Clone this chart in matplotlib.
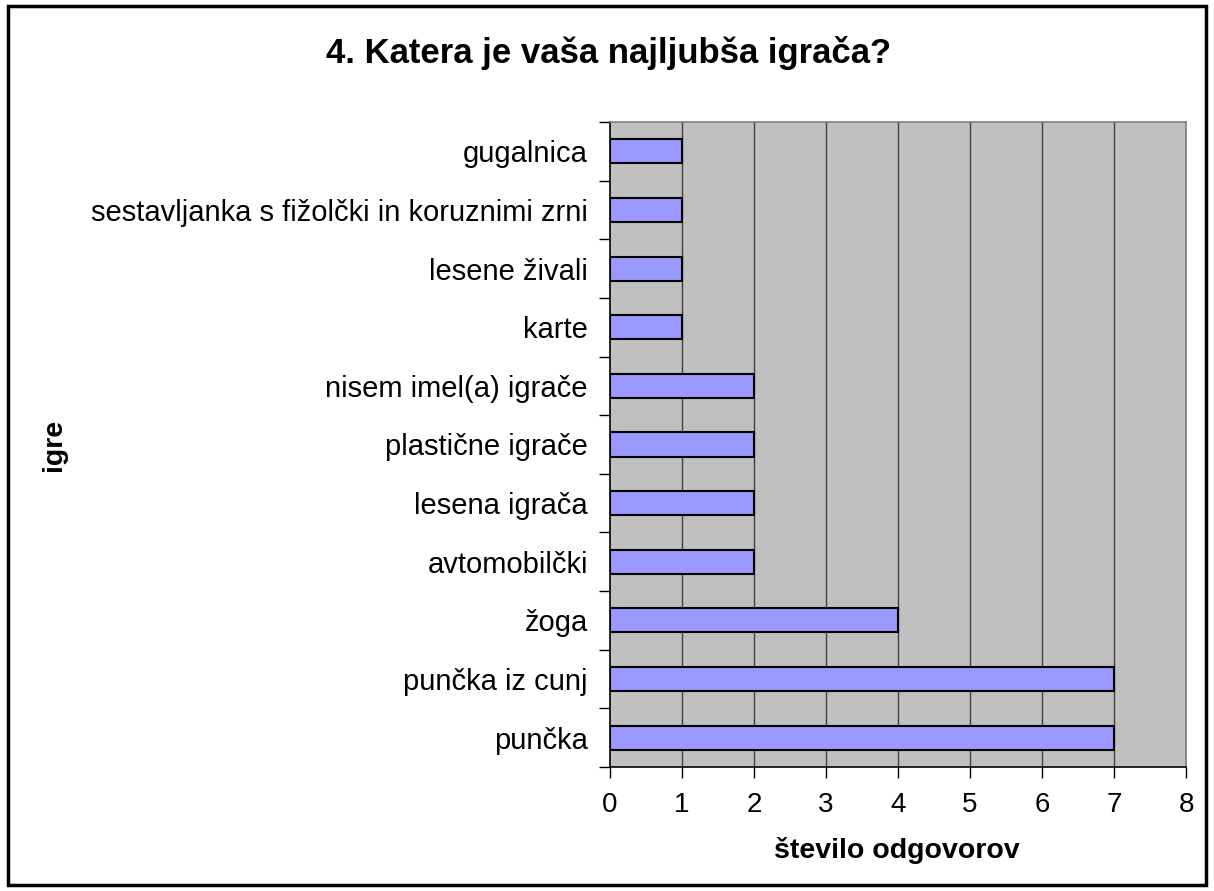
import matplotlib.pyplot as plt
import numpy as np

plt.rcParams['font.family'] = ['Liberation Sans', 'DejaVu Sans']

categories = [
    "punčka", "punčka iz cunj", "žoga", "avtomobilčki", "lesena igrača",
    "plastične igrače", "nisem imel(a) igrače", "karte", "lesene živali",
    "sestavljanka s fižolčki in koruznimi zrni", "gugalnica",
]
values = [7, 7, 4, 2, 2, 2, 2, 1, 1, 1, 1]
x_ticks = [0, 1, 2, 3, 4, 5, 6, 7, 8]

fig = plt.figure(figsize=(12.14, 8.91), dpi=100)
fig.patches.append(plt.Rectangle((8 / 1214, 6 / 891), 1198 / 1214, 879 / 891,
                                 transform=fig.transFigure, fill=False,
                                 edgecolor='black', linewidth=2.5))

ax = fig.add_axes([610 / 1214, 1 - 767 / 891, 576 / 1214, 645 / 891])
ax.set_facecolor('#C0C0C0')

pos = np.arange(len(categories))
ax.barh(pos, values, height=0.41, color='#9999FF', edgecolor='black',
        linewidth=1.5, zorder=3)

ax.set_xlim(0, 8)
ax.set_ylim(-0.5, len(categories) - 0.5)
ax.set_xticks(x_ticks)
ax.set_xticklabels([str(t) for t in x_ticks], fontsize=20)
for t in x_ticks[1:-1]:
    ax.axvline(t, color='#404040', linewidth=1.0, zorder=1)

ax.set_yticks(pos)
ax.set_yticklabels(categories, fontsize=21)
ax.tick_params(axis='y', length=0, pad=16)
ax.set_yticks(np.arange(-0.5, len(categories), 1), minor=True)
ax.tick_params(axis='y', which='minor', length=8, width=1, direction='out')
ax.tick_params(axis='x', length=8, width=1, direction='out', pad=10)

for side in ['top', 'right']:
    ax.spines[side].set_color('#808080')
    ax.spines[side].set_linewidth(1.2)
for side in ['left', 'bottom']:
    ax.spines[side].set_color('black')
    ax.spines[side].set_linewidth(1.2)

fig.text(897 / 1214, 1 - 858 / 891, "število odgovorov", fontsize=20.5,
         fontweight='bold', ha='center', va='baseline')
fig.text(54 / 1214, 1 - 445 / 891, "igre", fontsize=20.5, fontweight='bold',
         rotation=90, ha='center', va='center')
fig.text(609 / 1214, 1 - 63 / 891, "4. Katera je vaša najljubša igrača?",
         fontsize=25, fontweight='bold', ha='center', va='baseline')

fig.savefig('out.png', dpi=100)
